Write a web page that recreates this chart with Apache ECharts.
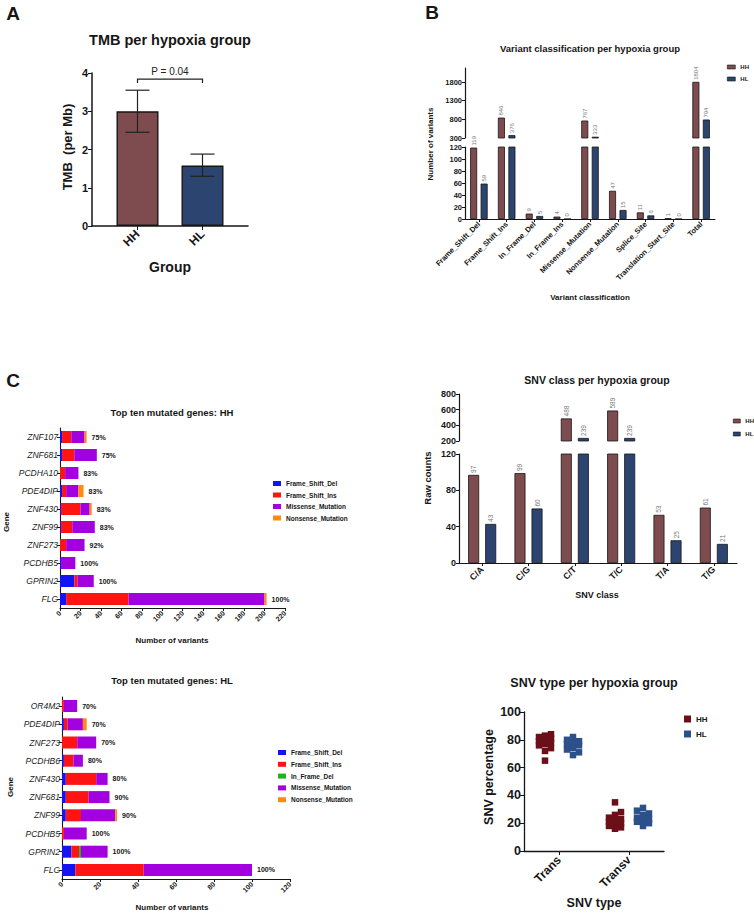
<!DOCTYPE html>
<html><head><meta charset="utf-8">
<script src="https://cdn.jsdelivr.net/npm/echarts@6/dist/echarts.min.js"></script>
<style>html,body{margin:0;padding:0;background:#fff}#c{width:754px;height:914px}</style>
</head><body><div id="c"></div>
<script>
// ---------- Panel A: TMB ----------
const tmbGroups = ['HH', 'HL'];
const tmbMean = [3.0, 1.58];
const tmbLow = [2.45, 1.30];
const tmbHigh = [3.55, 1.88];
const tmbBracket = [0, 1, 3.84, 3.74];
const tmbPText = 'P = 0.04';

// ---------- Panel B: variant classification ----------
const varClasses = ['Frame_Shift_Del', 'Frame_Shift_Ins', 'In_Frame_Del', 'In_Frame_Ins', 'Missense_Mutation', 'Nonsense_Mutation', 'Splice_Site', 'Translation_Start_Site', 'Total'];
const varHH = [119, 846, 9, 4, 767, 47, 11, 1, 1804];
const varHL = [59, 376, 5, 0, 333, 15, 6, 0, 794];

// ---------- Panel C: top ten mutated genes HH ----------
const hhGenes = ['ZNF107', 'ZNF681', 'PCDHA10', 'PDE4DIP', 'ZNF430', 'ZNF99', 'ZNF273', 'PCDHB5', 'GPRIN2', 'FLG'];
const hhDel = [2, 2, 0, 2, 1, 1, 0, 1, 14, 6];
const hhIns = [9, 12, 5, 4, 19, 11, 6, 0, 3, 61];
const hhMis = [13, 22, 13, 12, 9, 22, 18, 14, 16, 133];
const hhNon = [2, 0, 0, 5, 2, 0, 0, 0, 0, 2];
const hhPct = ['75%', '75%', '83%', '83%', '83%', '83%', '92%', '100%', '100%', '100%'];

// ---------- Panel C: top ten mutated genes HL ----------
const hlGenes = ['OR4M2', 'PDE4DIP', 'ZNF273', 'PCDHB6', 'ZNF430', 'ZNF681', 'ZNF99', 'PCDHB5', 'GPRIN2', 'FLG'];
const hlDel = [0, 1, 0, 1, 2, 2, 2, 0, 5, 7];
const hlIns = [1, 2, 8, 5, 16, 12, 8, 1, 4, 36];
const hlInDel = [0, 0, 0, 0, 0, 0, 0, 0, 1, 0];
const hlMis = [7, 8, 10, 5, 6, 11, 18, 12, 14, 57];
const hlNon = [0, 2, 0, 0, 0, 0, 1, 0, 0, 0];
const hlPct = ['70%', '70%', '70%', '80%', '80%', '90%', '90%', '100%', '100%', '100%'];

// ---------- SNV class ----------
const snvClasses = ['C/A', 'C/G', 'C/T', 'T/C', 'T/A', 'T/G'];
const snvHH = [97, 99, 488, 589, 53, 61];
const snvHL = [43, 60, 239, 239, 25, 21];

// ---------- SNV type ----------
const snvTypes = ['Trans', 'Transv'];
const hhTrans = [65, 72, 74, 76, 77, 78, 79, 80, 81, 82, 83, 84];
const hhTransv = [35, 28, 26, 24, 23, 22, 21, 20, 19, 18, 17, 16];
const hlTrans = [69, 71, 73, 74, 76, 77, 78, 79, 80, 82];
const hlTransv = [31, 29, 27, 26, 24, 23, 22, 21, 20, 18];

// ---------- styling ----------
const F = '"Liberation Sans", Arial, Helvetica, sans-serif';
const ink = '#161616';
const HHc = '#7e4b4f', HLc = '#2b4470';
const HHd = '#6b1019', HLd = '#2c5089';
const mutColor = {
  Frame_Shift_Del: '#1414f2', Frame_Shift_Ins: '#ff1414', In_Frame_Del: '#1db41d',
  Missense_Mutation: '#a300e0', Nonsense_Mutation: '#ff8a0d'
};

const chart = echarts.init(document.getElementById('c'), null, { renderer: 'svg' });

function txt(t, x, y, size, o) {
  o = o || {};
  return {
    type: 'text', x: x, y: y, rotation: o.rot || 0, silent: true, z: 100,
    style: {
      text: t, fontSize: size, fontWeight: o.weight || 'bold', fontFamily: F, fill: o.color || ink,
      align: 'center', verticalAlign: 'middle', textAlign: 'center', textVerticalAlign: 'middle'
    }
  };
}
const R = Math.PI / 2;

function line(w) { return { show: true, onZero: false, lineStyle: { color: ink, width: w } }; }
function tick(len, extra) { return Object.assign({ show: true, length: len, lineStyle: { color: ink, width: 1 } }, extra || {}); }
function lab(size, extra) { return Object.assign({ color: ink, fontWeight: 'bold', fontSize: size, fontFamily: F }, extra || {}); }
const plain = v => String(v);

const grids = [
  { left: 92, top: 73, width: 156, height: 153 },      // 0 A
  { left: 465, top: 68, width: 250, height: 70 },      // 1 B upper
  { left: 465, top: 147, width: 250, height: 72 },     // 2 B lower
  { left: 60, top: 428, width: 225, height: 180 },     // 3 HH genes
  { left: 62, top: 697, width: 228, height: 182 },     // 4 HL genes
  { left: 459, top: 394, width: 278, height: 47 },     // 5 SNV class upper
  { left: 459, top: 454, width: 278, height: 109 },    // 6 SNV class lower
  { left: 524, top: 712, width: 140, height: 139 }     // 7 SNV type
];

const xAxes = [
  { gridIndex: 0, type: 'value', min: -0.7, max: 1.7, axisLine: line(1.5),
    axisTick: tick(4, { customValues: [0, 1] }),
    axisLabel: lab(12, { customValues: [0, 1], rotate: 45, margin: 6, formatter: v => tmbGroups[Math.round(v)] }),
    splitLine: { show: false } },
  { gridIndex: 1, type: 'category', data: varClasses, show: false },
  { gridIndex: 2, type: 'category', data: varClasses, axisLine: line(1.2),
    axisTick: tick(3, { alignWithLabel: true }), axisLabel: lab(7.5, { rotate: 45, interval: 0, margin: 4 }) },
  { gridIndex: 3, type: 'value', min: 0, max: 220, interval: 20, axisLine: line(1.1), axisTick: tick(3),
    axisLabel: lab(7, { rotate: 45, margin: 4, formatter: plain }), splitLine: { show: false } },
  { gridIndex: 4, type: 'value', min: 0, max: 120, interval: 20, axisLine: line(1.1), axisTick: tick(3),
    axisLabel: lab(7, { rotate: 45, margin: 4, formatter: plain }), splitLine: { show: false } },
  { gridIndex: 5, type: 'category', data: snvClasses, show: false },
  { gridIndex: 6, type: 'category', data: snvClasses, axisLine: line(1.2),
    axisTick: tick(3, { alignWithLabel: true }), axisLabel: lab(9, { rotate: 45, interval: 0, margin: 5 }) },
  { gridIndex: 7, type: 'category', data: snvTypes, axisLine: line(1.3),
    axisTick: tick(4, { alignWithLabel: true }), axisLabel: lab(12, { rotate: 45, interval: 0, margin: 7 }) }
];

const yAxes = [
  { gridIndex: 0, type: 'value', min: 0, max: 4, interval: 1, axisLine: line(1.5), axisTick: tick(4),
    axisLabel: lab(11, { margin: 4 }), splitLine: { show: false } },
  { gridIndex: 1, type: 'value', min: 300, max: 2175, interval: 500, axisLine: line(1.2), axisTick: tick(3),
    axisLabel: lab(7.5, { margin: 3, showMaxLabel: false, formatter: plain }), splitLine: { show: false } },
  { gridIndex: 2, type: 'value', min: 0, max: 120, interval: 20, axisLine: line(1.2), axisTick: tick(3),
    axisLabel: lab(7.5, { margin: 3 }), splitLine: { show: false } },
  { gridIndex: 3, type: 'category', data: hhGenes, inverse: true, axisLine: line(1.1),
    axisTick: tick(3, { alignWithLabel: true }),
    axisLabel: lab(8.5, { fontWeight: 'normal', fontStyle: 'italic', color: '#222', margin: 2 }) },
  { gridIndex: 4, type: 'category', data: hlGenes, inverse: true, axisLine: line(1.1),
    axisTick: tick(3, { alignWithLabel: true }),
    axisLabel: lab(8.5, { fontWeight: 'normal', fontStyle: 'italic', color: '#222', margin: 2 }) },
  { gridIndex: 5, type: 'value', min: 200, max: 800, interval: 200, axisLine: line(1.2), axisTick: tick(3),
    axisLabel: lab(9, { margin: 3, formatter: plain }), splitLine: { show: false } },
  { gridIndex: 6, type: 'value', min: 0, max: 120, interval: 40, axisLine: line(1.2), axisTick: tick(3),
    axisLabel: lab(9, { margin: 3 }), splitLine: { show: false } },
  { gridIndex: 7, type: 'value', min: 0, max: 100, interval: 20, axisLine: line(1.3), axisTick: tick(4),
    axisLabel: lab(12.5, { margin: 3 }), splitLine: { show: false } }
];

const series = [];

// Panel A bars + error bars + bracket
series.push({
  type: 'bar', xAxisIndex: 0, yAxisIndex: 0, barWidth: 42, silent: true,
  data: tmbMean.map((v, i) => ({ value: [i, v], itemStyle: { color: [HHc, HLc][i] } })),
  itemStyle: { borderColor: ink, borderWidth: 1.4 }
});
series.push({
  type: 'custom', xAxisIndex: 0, yAxisIndex: 0, z: 10, silent: true,
  data: tmbMean.map((v, i) => [i, tmbLow[i], tmbHigh[i]]),
  renderItem: (p, api) => {
    const x = api.value(0);
    const lo = api.coord([x, api.value(1)]), hi = api.coord([x, api.value(2)]);
    const w = 12, st = { stroke: '#222', lineWidth: 1.2 };
    return { type: 'group', children: [
      { type: 'line', shape: { x1: lo[0], y1: lo[1], x2: hi[0], y2: hi[1] }, style: st },
      { type: 'line', shape: { x1: hi[0] - w, y1: hi[1], x2: hi[0] + w, y2: hi[1] }, style: st },
      { type: 'line', shape: { x1: lo[0] - w, y1: lo[1], x2: lo[0] + w, y2: lo[1] }, style: st }
    ] };
  }
});
series.push({
  type: 'custom', xAxisIndex: 0, yAxisIndex: 0, z: 10, silent: true,
  data: [tmbBracket],
  renderItem: (p, api) => {
    const a = api.coord([api.value(0), api.value(3)]), b = api.coord([api.value(0), api.value(2)]);
    const c = api.coord([api.value(1), api.value(2)]), d = api.coord([api.value(1), api.value(3)]);
    return { type: 'group', children: [
      { type: 'polyline', shape: { points: [a, b, c, d] }, style: { stroke: '#222', lineWidth: 1.2, fill: null } },
      { type: 'text', x: (b[0] + c[0]) / 2, y: b[1] - 3,
        style: { text: tmbPText, fontSize: 10, fontFamily: F, fill: '#222', align: 'center', verticalAlign: 'bottom', textAlign: 'center', textVerticalAlign: 'bottom' } }
    ] };
  }
});

// broken-axis bar helper
function brokenBars(name, vals, color, xu, yu, xl, yl, lowMax, bw, gap, fs) {
  const lbl = { position: 'top', rotate: 90, align: 'left', verticalAlign: 'middle', distance: 2, color: '#777', fontSize: fs, fontFamily: F };
  const common = { type: 'bar', name: name, barWidth: bw, barGap: gap, silent: true,
    itemStyle: { color: color, borderColor: ink, borderWidth: 0.8 } };
  series.push(Object.assign({}, common, { xAxisIndex: xu, yAxisIndex: yu,
    data: vals.map(v => ({ value: v, label: Object.assign({ show: v > lowMax }, lbl) })) }));
  series.push(Object.assign({}, common, { xAxisIndex: xl, yAxisIndex: yl,
    data: vals.map(v => ({ value: v, label: Object.assign({ show: v <= lowMax }, lbl) })) }));
}
brokenBars('HH', varHH, HHc, 1, 1, 2, 2, 120, 7, '50%', 6);
brokenBars('HL', varHL, HLc, 1, 1, 2, 2, 120, 7, '50%', 6);
brokenBars('HH', snvHH, HHc, 5, 5, 6, 6, 120, 11, '55%', 6.5);
brokenBars('HL', snvHL, HLc, 5, 5, 6, 6, 120, 11, '55%', 6.5);

// stacked gene bars
function stacked(stackId, ax, names, arrays, pct, bw) {
  names.forEach((n, k) => {
    const last = k === names.length - 1;
    series.push({
      type: 'bar', name: n, stack: stackId, xAxisIndex: ax, yAxisIndex: ax, barWidth: bw, silent: true,
      itemStyle: { color: mutColor[n] }, data: arrays[k],
      label: last ? { show: true, position: 'right', distance: 5, formatter: p => pct[p.dataIndex],
        color: ink, fontWeight: 'bold', fontSize: 7, fontFamily: F } : { show: false }
    });
  });
}
stacked('hh', 3, ['Frame_Shift_Del', 'Frame_Shift_Ins', 'Missense_Mutation', 'Nonsense_Mutation'],
  [hhDel, hhIns, hhMis, hhNon], hhPct, 12);
stacked('hl', 4, ['Frame_Shift_Del', 'Frame_Shift_Ins', 'In_Frame_Del', 'Missense_Mutation', 'Nonsense_Mutation'],
  [hlDel, hlIns, hlInDel, hlMis, hlNon], hlPct, 12);

// SNV type scatter: compact beeswarm layout (3 columns at most)
function swarm(vals, pxPerUnit, size, step) {
  const idx = vals.map((v, i) => i).sort((a, b) => vals[a] - vals[b]);
  const placed = [], out = vals.map(() => 0);
  const cands = [0, step, -step];
  idx.forEach(i => {
    const y = vals[i] * pxPerUnit;
    let best = 0, bestCost = Infinity;
    for (const c of cands) {
      let cost = 0;
      placed.forEach(p => {
        const dy = Math.abs(p.y - y), dx = Math.abs(p.x - c);
        if (dy < size && dx < size) cost += (size - dy) * (size - dx);
      });
      if (cost < bestCost - 1e-9) { bestCost = cost; best = c; }
    }
    out[i] = best; placed.push({ x: best, y: y });
  });
  return out;
}
const ppu = 139 / 100;
function scatterData(groups, base) {
  const d = [];
  groups.forEach((vals, ci) => {
    const offs = swarm(vals, ppu, 6.5, 6);
    vals.forEach((v, i) => d.push({ value: [ci, v], symbolOffset: [base + offs[i], 0] }));
  });
  return d;
}
series.push({ type: 'scatter', name: 'HH', xAxisIndex: 7, yAxisIndex: 7, symbol: 'rect', symbolSize: 6.5, silent: true,
  itemStyle: { color: HHd, opacity: 1 }, data: scatterData([hhTrans, hhTransv], -14) });
series.push({ type: 'scatter', name: 'HL', xAxisIndex: 7, yAxisIndex: 7, symbol: 'rect', symbolSize: 6.5, silent: true,
  itemStyle: { color: HLd, opacity: 1 }, data: scatterData([hlTrans, hlTransv], 14) });

function legend(names, left, top, iw, ih, gap, fs, extra) {
  return Object.assign({
    data: names, left: left, top: top, orient: 'vertical', icon: 'rect', itemWidth: iw, itemHeight: ih,
    itemGap: gap, padding: 0, selectedMode: false,
    textStyle: { fontSize: fs, fontWeight: 'bold', color: ink, fontFamily: F }
  }, extra || {});
}
const legends = [
  legend(['HH', 'HL'], 727, 64, 8, 4, 6, 6, { itemStyle: { borderColor: ink, borderWidth: 0.6 } }),
  legend(['HH', 'HL'], 733, 418, 7, 4, 7, 6, { itemStyle: { borderColor: ink, borderWidth: 0.6 } }),
  legend(['Frame_Shift_Del', 'Frame_Shift_Ins', 'Missense_Mutation', 'Nonsense_Mutation'], 273, 480, 8, 5, 4.5, 6.5),
  legend(['Frame_Shift_Del', 'Frame_Shift_Ins', 'In_Frame_Del', 'Missense_Mutation', 'Nonsense_Mutation'], 278, 749, 8, 5, 4.8, 6.5),
  legend([{ name: 'HH', itemStyle: { color: HHd, borderWidth: 0 } }, { name: 'HL', itemStyle: { color: HLd, borderWidth: 0 } }],
    684, 715, 7, 7, 7, 8)
];

const graphic = [
  txt('A', 13, 13, 19), txt('B', 432, 12, 19), txt('C', 13, 380, 19),
  txt('TMB per hypoxia group', 170, 40, 14.5),
  txt('TMB  (per Mb)', 67, 147, 13, { rot: R }),
  txt('Group', 170, 267, 14),
  txt('Variant classification per hypoxia group', 590, 48, 9.5),
  txt('Number of variants', 430, 144, 8, { rot: R }),
  txt('Variant classification', 590, 297, 8),
  txt('Top ten mutated genes: HH', 172, 412, 9.5),
  txt('Gene', 6, 522, 8, { rot: R }),
  txt('Number of variants', 172, 640, 8),
  txt('Top ten mutated genes: HL', 172, 680, 9.5),
  txt('Gene', 10, 787, 8, { rot: R }),
  txt('Number of variants', 172, 907, 8),
  txt('SNV class per hypoxia group', 597, 380, 10.5),
  txt('Raw counts', 427, 478, 9.5, { rot: R }),
  txt('SNV class', 597, 595, 9),
  txt('SNV type per hypoxia group', 594, 683, 12.5),
  txt('SNV percentage', 489, 777, 12.5, { rot: R }),
  txt('SNV type', 594, 903, 12.5)
];

chart.setOption({
  animation: false,
  backgroundColor: '#fff',
  textStyle: { fontFamily: F },
  grid: grids, xAxis: xAxes, yAxis: yAxes, series: series, legend: legends, graphic: graphic
});
</script>
</body></html>
